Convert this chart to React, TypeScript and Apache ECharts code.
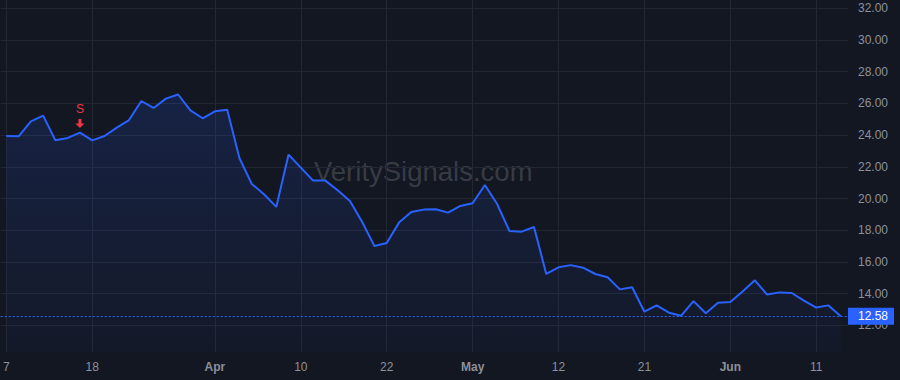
import React, { useEffect, useRef } from "react";
import * as echarts from "echarts";

const prices: number[] = [
  23.95, 23.92, 24.87, 25.23, 23.67, 23.82, 24.16, 23.67, 23.94, 24.47,
  24.95, 26.15, 25.71, 26.3, 26.56, 25.56, 25.06, 25.5, 25.6, 22.54,
  20.92, 20.27, 19.47, 22.77, 21.95, 21.13, 21.13, 20.52, 19.84, 18.52,
  17.0, 17.19, 18.48, 19.15, 19.3, 19.32, 19.11, 19.53, 19.7, 20.85,
  19.65, 17.95, 17.91, 18.2, 15.24, 15.66, 15.8, 15.64, 15.24, 15.03,
  14.27, 14.4, 12.86, 13.26, 12.8, 12.61, 13.53, 12.76, 13.43, 13.47,
  14.14, 14.84, 13.94, 14.08, 14.04, 13.56, 13.12, 13.26, 12.58,
];

const tickIndices: number[] = [0, 7, 17, 24, 31, 38, 45, 52, 59, 66];
const tickLabels: string[] = ["7", "18", "Apr", "10", "22", "May", "12", "21", "Jun", "11"];
const monthLabels: string[] = ["Apr", "May", "Jun"];
const yTicks: number[] = [12, 14, 16, 18, 20, 22, 24, 26, 28, 30, 32];

const signalIndex = 6;
const signalLabel = "S";
const lastPrice = 12.58;
const watermark = "VeritySignals.com";

export default function App() {
  const ref = useRef<HTMLDivElement>(null);
  useEffect(() => {
    if (!ref.current) return;
    const chart = echarts.init(ref.current, null, { renderer: "svg" });
    const data = prices.map((v, i) => [i, v]);
    chart.setOption({
      animation: false,
      backgroundColor: "#131722",
      grid: { left: 0, right: 52, top: 0, bottom: 28 },
      graphic: [
        {
          type: "text",
          left: 314,
          top: 157,
          silent: true,
          style: {
            text: watermark,
            fill: "rgba(255,255,255,0.17)",
            font: '27.5px "Liberation Sans", Arial, sans-serif',
          },
        },
      ],
      xAxis: {
        type: "value",
        min: -0.46,
        max: 68.59,
        axisLine: { show: false },
        axisTick: { show: false, customValues: tickIndices },
        splitLine: { show: true, lineStyle: { color: "#232733", width: 1 } },
        axisLabel: {
          customValues: tickIndices,
          margin: 9,
          color: "#8c909b",
          fontSize: 12,
          fontFamily: '"Liberation Sans", Arial, sans-serif',
          formatter: (v: number) => {
            const k = tickIndices.indexOf(Math.round(v));
            const t = k >= 0 ? tickLabels[k] : "";
            return monthLabels.includes(t) ? `{b|${t}}` : t;
          },
          rich: {
            b: {
              fontWeight: "bold",
              color: "#8c909b",
              fontSize: 12,
              fontFamily: '"Liberation Sans", Arial, sans-serif',
            },
          },
        },
      },
      yAxis: {
        type: "value",
        position: "right",
        min: 10.32,
        max: 32.52,
        axisLine: { show: false },
        axisTick: { show: false, customValues: yTicks },
        splitLine: { show: true, lineStyle: { color: "#232733", width: 1 } },
        axisLabel: {
          customValues: yTicks,
          margin: 10,
          color: "#8c909b",
          fontSize: 12,
          fontFamily: '"Liberation Sans", Arial, sans-serif',
          formatter: (v: number) => v.toFixed(2),
        },
      },
      series: [
        {
          type: "line",
          data,
          showSymbol: false,
          symbol: "none",
          lineStyle: { color: "#2962FF", width: 2 },
          areaStyle: {
            color: new echarts.graphic.LinearGradient(0, 0, 0, 1, [
              { offset: 0, color: "rgba(41,98,255,0.22)" },
              { offset: 1, color: "rgba(41,98,255,0.04)" },
            ]),
          },
          markLine: {
            silent: true,
            symbol: "none",
            lineStyle: { color: "#2962FF", type: [2, 2], width: 1 },
            data: [{ yAxis: lastPrice }],
            label: {
              show: true,
              position: "end",
              distance: 0,
              formatter: lastPrice.toFixed(2),
              backgroundColor: "#2962FF",
              color: "#ffffff",
              fontSize: 12,
              fontFamily: '"Liberation Sans", Arial, sans-serif',
              padding: [3, 6, 2, 10],
              lineHeight: 12,
            },
          },
          markPoint: {
            silent: true,
            symbol: "path://M3,0L6,0L6,4.5L9,4.5L4.5,9L0,4.5L3,4.5Z",
            symbolSize: [9, 9],
            symbolOffset: [0, -9],
            itemStyle: { color: "#f23645" },
            label: {
              show: true,
              position: "top",
              distance: 4,
              formatter: signalLabel,
              color: "#f23645",
              fontSize: 12,
              fontFamily: '"Liberation Sans", Arial, sans-serif',
            },
            data: [{ coord: [signalIndex, prices[signalIndex]] }],
          },
        },
      ],
    });
    return () => chart.dispose();
  }, []);
  return (
    <div
      ref={ref}
      style={{ position: "fixed", left: 0, top: 0, width: 900, height: 380 }}
    />
  );
}
